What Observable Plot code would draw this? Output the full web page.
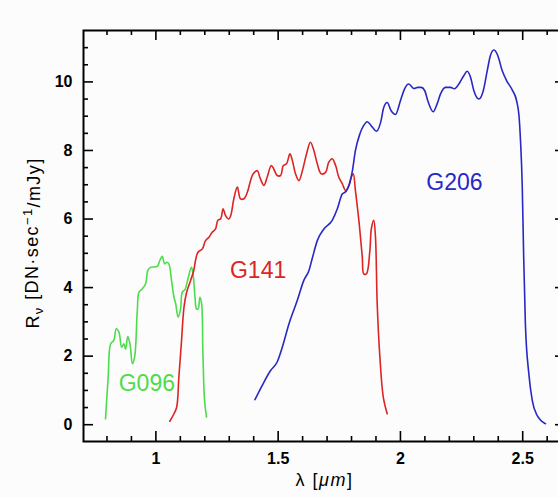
<!DOCTYPE html>
<html><head><meta charset="utf-8">
<script src="https://cdn.jsdelivr.net/npm/d3@7"></script>
<script src="https://cdn.jsdelivr.net/npm/@observablehq/plot@0.6"></script>
<style>body{margin:0;background:#fcfcfc} #chart{width:558px;height:497px;overflow:hidden}</style>
</head><body><div id="chart"></div>
<script>
// G096 grism throughput
const g096Wavelength = [0.794, 0.805, 0.815, 0.828, 0.838, 0.849, 0.860, 0.869, 0.876, 0.885, 0.894, 0.904, 0.913, 0.924, 0.931, 0.944, 0.958, 0.967, 0.978, 1.006, 1.016, 1.026, 1.036, 1.044, 1.053, 1.064, 1.074, 1.081, 1.091, 1.101, 1.108, 1.119, 1.128, 1.145, 1.151, 1.160, 1.166, 1.173, 1.180, 1.187, 1.192, 1.199, 1.207];
const g096Response   = [0.17, 1.40, 2.36, 2.46, 2.80, 2.70, 2.26, 2.36, 2.20, 2.57, 2.36, 1.78, 1.97, 3.33, 3.87, 3.96, 4.11, 4.50, 4.59, 4.62, 4.79, 4.91, 4.69, 4.74, 4.69, 4.21, 3.72, 3.53, 3.14, 3.38, 3.87, 3.94, 4.16, 4.59, 4.45, 3.72, 3.38, 3.38, 3.72, 3.53, 2.17, 0.71, 0.22];

// G141 grism throughput
const g141Wavelength = [1.057, 1.074, 1.085, 1.094, 1.104, 1.115, 1.126, 1.142, 1.155, 1.162, 1.172, 1.190, 1.203, 1.217, 1.231, 1.244, 1.253, 1.265, 1.275, 1.285, 1.298, 1.306, 1.319, 1.333, 1.346, 1.360, 1.374, 1.387, 1.398, 1.415, 1.425, 1.442, 1.455, 1.472, 1.482, 1.496, 1.510, 1.521, 1.534, 1.548, 1.558, 1.571, 1.585, 1.599, 1.616, 1.632, 1.646, 1.660, 1.676, 1.694, 1.707, 1.721, 1.735, 1.748, 1.762, 1.776, 1.789, 1.799, 1.807, 1.816, 1.830, 1.844, 1.850, 1.861, 1.875, 1.881, 1.891, 1.898, 1.905, 1.916, 1.930, 1.946];
const g141Response   = [0.10, 0.32, 0.51, 1.39, 2.36, 3.43, 3.87, 4.21, 4.50, 4.79, 5.03, 5.13, 5.37, 5.47, 5.62, 5.71, 5.96, 6.01, 6.30, 6.10, 6.00, 6.10, 6.60, 6.93, 6.59, 6.59, 6.78, 7.12, 7.32, 7.41, 7.22, 6.98, 7.22, 7.56, 7.46, 7.27, 7.27, 7.56, 7.61, 7.90, 7.71, 7.32, 7.12, 7.41, 7.90, 8.24, 8.00, 7.61, 7.32, 7.36, 7.66, 7.76, 7.56, 7.22, 7.03, 6.83, 6.98, 7.22, 7.32, 6.83, 5.96, 4.89, 4.40, 4.40, 5.08, 5.71, 5.96, 5.47, 3.53, 1.97, 0.80, 0.32];

// G206 grism throughput
const g206Wavelength = [1.405, 1.435, 1.469, 1.496, 1.517, 1.544, 1.578, 1.605, 1.626, 1.639, 1.660, 1.687, 1.721, 1.742, 1.762, 1.778, 1.792, 1.803, 1.816, 1.834, 1.850, 1.864, 1.885, 1.902, 1.919, 1.932, 1.946, 1.962, 1.980, 2.000, 2.017, 2.034, 2.055, 2.071, 2.085, 2.099, 2.112, 2.134, 2.150, 2.164, 2.184, 2.205, 2.221, 2.239, 2.259, 2.273, 2.287, 2.300, 2.321, 2.339, 2.355, 2.368, 2.382, 2.398, 2.416, 2.434, 2.457, 2.475, 2.485, 2.491, 2.498, 2.504, 2.511, 2.525, 2.539, 2.559, 2.593];
const g206Response   = [0.73, 1.15, 1.58, 1.83, 2.26, 2.94, 3.62, 4.21, 4.50, 4.84, 5.37, 5.71, 5.96, 6.30, 6.73, 6.81, 7.03, 7.38, 8.00, 8.48, 8.73, 8.84, 8.68, 8.56, 8.82, 9.26, 9.40, 9.16, 9.05, 9.45, 9.80, 9.94, 9.81, 9.84, 9.84, 9.75, 9.45, 9.13, 9.36, 9.65, 9.84, 9.84, 9.80, 9.94, 10.18, 10.31, 10.13, 9.75, 9.50, 9.75, 10.33, 10.77, 10.93, 10.77, 10.33, 10.04, 9.77, 9.45, 9.00, 8.29, 7.00, 4.89, 2.94, 1.49, 0.71, 0.27, 0.03];

// Series labels
const labelNames = ["G096", "G141", "G206"];
const labelWavelength = [0.963, 1.418, 2.221];
const labelResponse = [1.2, 4.5, 7.06];
const seriesColors = ["#4cdc4c", "#dd2424", "#2828c4"];

// Ticks
const xMajorTicks = [1, 1.5, 2, 2.5];
const xMinorTicks = [0.8, 0.9, 1.1, 1.2, 1.3, 1.4, 1.6, 1.7, 1.8, 1.9, 2.1, 2.2, 2.3, 2.4, 2.6];
const yMajorTicks = [0, 2, 4, 6, 8, 10];
const yMinorTicks = [0.5, 1, 1.5, 2.5, 3, 3.5, 4.5, 5, 5.5, 6.5, 7, 7.5, 8.5, 9, 9.5, 10.5, 11];

const toRows = (xs, ys) => xs.map((x, i) => ({x, y: ys[i]}));
const g096 = toRows(g096Wavelength, g096Response);
const g141 = toRows(g141Wavelength, g141Response);
const g206 = toRows(g206Wavelength, g206Response);
const labels = labelNames.map((n, i) => ({name: n, x: labelWavelength[i], y: labelResponse[i], color: seriesColors[i]}));

const W = 558, H = 497, mL = 83, mT = 30, mB = 56, mR = -7;
const plotW = W - mL - mR, plotH = H - mT - mB;
const majorLen = 10, minorLen = 5;
const tickStyle = {stroke: "#000", strokeWidth: 1.6};

const chart = Plot.plot({
  width: W, height: H,
  marginLeft: mL, marginRight: mR, marginTop: mT, marginBottom: mB,
  style: {background: "#fcfcfc", fontFamily: "'Liberation Sans', Arial, sans-serif", color: "#000", overflow: "visible"},
  x: {domain: [0.704, 2.675]},
  y: {domain: [-0.49, 11.5]},
  marks: [
    // inward ticks: bottom / top
    Plot.tickX(xMajorTicks, {x: d => d, insetTop: plotH - majorLen, ...tickStyle}),
    Plot.tickX(xMinorTicks, {x: d => d, insetTop: plotH - minorLen, ...tickStyle}),
    Plot.tickX(xMajorTicks, {x: d => d, insetBottom: plotH - majorLen, ...tickStyle}),
    Plot.tickX(xMinorTicks, {x: d => d, insetBottom: plotH - minorLen, ...tickStyle}),
    // inward ticks: left / right
    Plot.tickY(yMajorTicks, {y: d => d, insetRight: plotW - majorLen, ...tickStyle}),
    Plot.tickY(yMinorTicks, {y: d => d, insetRight: plotW - minorLen, ...tickStyle}),
    Plot.tickY(yMajorTicks, {y: d => d, insetLeft: plotW - majorLen, ...tickStyle}),
    Plot.tickY(yMinorTicks, {y: d => d, insetLeft: plotW - minorLen, ...tickStyle}),
    Plot.axisX(xMajorTicks, {tickSize: 0, tickPadding: 11, fontSize: 16, fontWeight: "bold", tickFormat: d => String(d), label: null}),
    Plot.axisY(yMajorTicks, {tickSize: 0, tickPadding: 11, fontSize: 16, fontWeight: "bold", tickFormat: d => String(d), label: null}),
    Plot.frame({stroke: "#000", strokeWidth: 2}),
    Plot.line(g096, {x: "x", y: "y", stroke: seriesColors[0], strokeWidth: 1.6, curve: "catmull-rom"}),
    Plot.line(g141, {x: "x", y: "y", stroke: seriesColors[1], strokeWidth: 1.6, curve: "catmull-rom"}),
    Plot.line(g206, {x: "x", y: "y", stroke: seriesColors[2], strokeWidth: 1.6, curve: "monotone-x"}),
    Plot.text(labels, {x: "x", y: "y", text: "name", fill: "color", fontSize: 23}),
    Plot.text(["XLABEL"], {frameAnchor: "bottom", textAnchor: "middle", lineAnchor: "middle", dy: 39, text: d => d, fontSize: 18, letterSpacing: "1px"}),
    Plot.text(["YLABEL"], {frameAnchor: "left", textAnchor: "middle", lineAnchor: "middle", dx: -50, dy: 7, rotate: -90, text: d => d, fontSize: 18})
  ]
});
document.getElementById("chart").appendChild(chart);

d3.select(chart).selectAll("text").each(function() {
  const t = this.textContent;
  if (t === "XLABEL") {
    this.setAttribute("letter-spacing", "1.5");
    this.innerHTML = 'λ [<tspan font-style="italic">μm</tspan>]';
  } else if (t === "YLABEL") {
    this.setAttribute("letter-spacing", "1.4");
    this.innerHTML = 'R<tspan dy="0.3em" font-size="13">ν</tspan><tspan dy="-0.3em"> [DN·sec</tspan><tspan dy="-0.45em" font-size="13">−1</tspan><tspan dy="0.45em">/mJy]</tspan>';
  }
});
</script>
</body></html>
